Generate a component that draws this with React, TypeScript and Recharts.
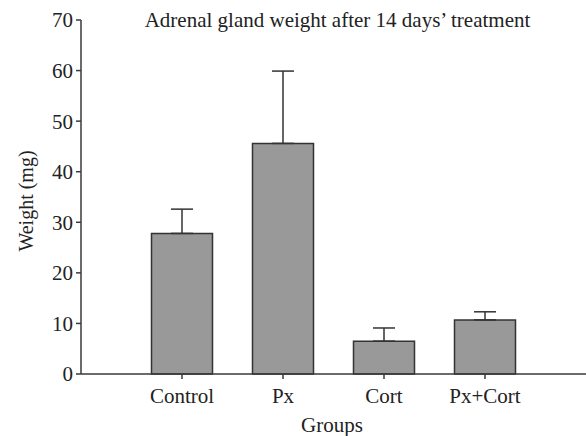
import React from "react";
import { BarChart, Bar, XAxis, YAxis, ErrorBar, Label } from "recharts";

const groups = ["Control", "Px", "Cort", "Px+Cort"];
const means = [27.8, 45.6, 6.5, 10.7];
const sems = [4.8, 14.3, 2.6, 1.6];
const yTicks = [0, 10, 20, 30, 40, 50, 60, 70];

const data = groups.map((g, i) => ({ group: g, weight: means[i], err: [0, sems[i]] }));

const FONT = "'Liberation Serif', 'Times New Roman', serif";
const AXIS = "#3a3a3a";

export default function App() {
  return (
    <div style={{ position: "absolute", left: 0, top: 0, width: 586, height: 436, background: "#fff" }}>
      <div
        style={{
          position: "absolute",
          left: 0,
          width: 675,
          top: 8,
          textAlign: "center",
          fontFamily: FONT,
          fontSize: 21,
          lineHeight: "24px",
          color: "#222",
          whiteSpace: "nowrap",
        }}
      >
        Adrenal gland weight after 14 days’ treatment
      </div>
      <BarChart
        width={586}
        height={436}
        data={data}
        margin={{ top: 20, right: 0, bottom: 0, left: 0 }}
        style={{ fontFamily: FONT }}
      >
        <XAxis
          dataKey="group"
          height={62}
          padding={{ left: 50.5, right: 50.5 }}
          stroke={AXIS}
          strokeWidth={1.5}
          tickSize={5}
          tickMargin={9}
          tick={{ fill: "#222", fontSize: 21, fontFamily: FONT }}
        >
          <Label
            content={() => (
              <text x={332} y={432} textAnchor="middle" fill="#222" fontSize={21} fontFamily={FONT}>
                Groups
              </text>
            )}
          />
        </XAxis>
        <YAxis
          width={81}
          domain={[0, 70]}
          ticks={yTicks}
          interval={0}
          stroke={AXIS}
          strokeWidth={1.5}
          tickSize={5}
          tickMargin={3}
          tick={{ fill: "#222", fontSize: 21, fontFamily: FONT }}
        >
          <Label
            content={() => (
              <text
                x={33}
                y={201}
                transform="rotate(-90 33 201)"
                textAnchor="middle"
                fill="#222"
                fontSize={20}
                fontFamily={FONT}
              >
                Weight (mg)
              </text>
            )}
          />
        </YAxis>
        <Bar dataKey="weight" fill="#999999" stroke="#333" strokeWidth={1.5} barSize={61} isAnimationActive={false}>
          <ErrorBar dataKey="err" width={11} stroke="#333" strokeWidth={1.5} direction="y" />
        </Bar>
      </BarChart>
    </div>
  );
}
